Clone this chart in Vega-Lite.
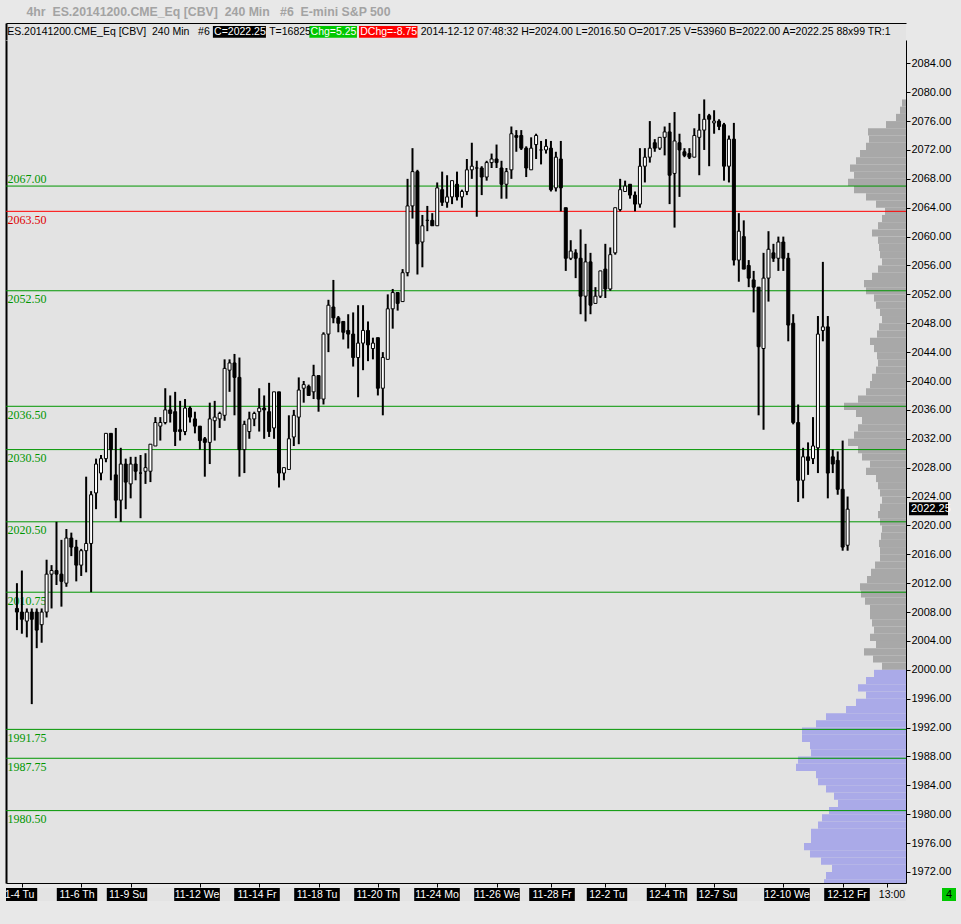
{
  "$schema": "https://vega.github.io/schema/vega-lite/v6.json",
  "padding": {"left": 5, "top": 5, "right": 6, "bottom": 30},
  "background": "#e8e8e8",
  "title": {
    "text": "4hr\u00a0\u00a0ES.20141200.CME_Eq [CBV]\u00a0\u00a0240 Min\u00a0\u00a0\u00a0#6\u00a0\u00a0E-mini S&P 500",
    "anchor": "start", "dx": 21, "offset": 5,
    "font": "Liberation Sans", "fontSize": 12.3, "fontWeight": "bold", "color": "#a3a3a3"
  },
  "config": {
    "view": {"stroke": null, "fill": "#e3e3e3"},
    "concat": {"spacing": 0},
    "axis": {"domainColor": "black", "tickColor": "black", "labelColor": "black", "grid": false, "title": null}
  },
  "datasets": {
    "header": [
      {"k": 1, "role": "symbol", "text": "ES.20141200.CME_Eq [CBV]\u00a0\u00a0240 Min\u00a0\u00a0\u00a0#6"},
      {"k": 2, "role": "close", "text": "C=2022.25"},
      {"k": 3, "role": "ticks", "text": "T=16825"},
      {"k": 4, "role": "change", "text": "Chg=5.25"},
      {"k": 5, "role": "daychange", "text": "DChg=-8.75"},
      {"k": 6, "role": "quote", "text": "2014-12-12 07:48:32 H=2024.00 L=2016.50 O=2017.25 V=53960 B=2022.00 A=2022.25 88x99 TR:1"}
    ],
    "sessions": [
      {"bar": 1, "label": "11-4 Tu"}, {"bar": 13, "label": "11-6 Th"}, {"bar": 23, "label": "11-9 Su"},
      {"bar": 37, "label": "11-12 We"}, {"bar": 49, "label": "11-14 Fr"}, {"bar": 61, "label": "11-18 Tu"},
      {"bar": 73, "label": "11-20 Th"}, {"bar": 85, "label": "11-24 Mo"}, {"bar": 97, "label": "11-26 We"},
      {"bar": 108, "label": "11-28 Fr"}, {"bar": 119, "label": "12-2 Tu"}, {"bar": 131, "label": "12-4 Th"},
      {"bar": 141, "label": "12-7 Su"}, {"bar": 155, "label": "12-10 We"}, {"bar": 167, "label": "12-12 Fr"}
    ],
    "clock": [{"bar": 176, "label": "13:00"}],
    "status": [{"windows": 4}],
    "levels": [
      {"price": 2067.00, "kind": "level"}, {"price": 2063.50, "kind": "reference"},
      {"price": 2052.50, "kind": "level"}, {"price": 2036.50, "kind": "level"},
      {"price": 2030.50, "kind": "level"}, {"price": 2020.50, "kind": "level"},
      {"price": 2010.75, "kind": "level"}, {"price": 1991.75, "kind": "level"},
      {"price": 1987.75, "kind": "level"}, {"price": 1980.50, "kind": "level"}
    ],
    "profile": [
      {"price": 2078, "volume": 4}, {"price": 2077, "volume": 6}, {"price": 2076, "volume": 10}, {"price": 2075, "volume": 20},
      {"price": 2074, "volume": 38}, {"price": 2073, "volume": 37}, {"price": 2072, "volume": 40}, {"price": 2071, "volume": 46},
      {"price": 2070, "volume": 50}, {"price": 2069, "volume": 56}, {"price": 2068, "volume": 52}, {"price": 2067, "volume": 58},
      {"price": 2066, "volume": 52}, {"price": 2065, "volume": 40}, {"price": 2064, "volume": 30}, {"price": 2063, "volume": 21},
      {"price": 2062, "volume": 24}, {"price": 2061, "volume": 28}, {"price": 2060, "volume": 34}, {"price": 2059, "volume": 28},
      {"price": 2058, "volume": 27}, {"price": 2057, "volume": 26}, {"price": 2056, "volume": 24}, {"price": 2055, "volume": 28},
      {"price": 2054, "volume": 34}, {"price": 2053, "volume": 42}, {"price": 2052, "volume": 40}, {"price": 2051, "volume": 32},
      {"price": 2050, "volume": 30}, {"price": 2049, "volume": 26}, {"price": 2048, "volume": 24}, {"price": 2047, "volume": 27},
      {"price": 2046, "volume": 29}, {"price": 2045, "volume": 36}, {"price": 2044, "volume": 32}, {"price": 2043, "volume": 29},
      {"price": 2042, "volume": 28}, {"price": 2041, "volume": 30}, {"price": 2040, "volume": 34}, {"price": 2039, "volume": 36},
      {"price": 2038, "volume": 40}, {"price": 2037, "volume": 48}, {"price": 2036, "volume": 62}, {"price": 2035, "volume": 50},
      {"price": 2034, "volume": 44}, {"price": 2033, "volume": 48}, {"price": 2032, "volume": 52}, {"price": 2031, "volume": 58},
      {"price": 2030, "volume": 48}, {"price": 2029, "volume": 44}, {"price": 2028, "volume": 36}, {"price": 2027, "volume": 40},
      {"price": 2026, "volume": 30}, {"price": 2025, "volume": 28}, {"price": 2024, "volume": 26}, {"price": 2023, "volume": 24},
      {"price": 2022, "volume": 26}, {"price": 2021, "volume": 28}, {"price": 2020, "volume": 26}, {"price": 2019, "volume": 24},
      {"price": 2018, "volume": 25}, {"price": 2017, "volume": 27}, {"price": 2016, "volume": 26}, {"price": 2015, "volume": 26},
      {"price": 2014, "volume": 31}, {"price": 2013, "volume": 35}, {"price": 2012, "volume": 39}, {"price": 2011, "volume": 46},
      {"price": 2010, "volume": 45}, {"price": 2009, "volume": 41}, {"price": 2008, "volume": 36}, {"price": 2007, "volume": 36},
      {"price": 2006, "volume": 34}, {"price": 2005, "volume": 32}, {"price": 2004, "volume": 36}, {"price": 2003, "volume": 30},
      {"price": 2002, "volume": 42}, {"price": 2001, "volume": 33}, {"price": 2000, "volume": 24}, {"price": 1999, "volume": 32},
      {"price": 1998, "volume": 40}, {"price": 1997, "volume": 48}, {"price": 1996, "volume": 40}, {"price": 1995, "volume": 50},
      {"price": 1994, "volume": 60}, {"price": 1993, "volume": 80}, {"price": 1992, "volume": 90}, {"price": 1991, "volume": 104},
      {"price": 1990, "volume": 104}, {"price": 1989, "volume": 96}, {"price": 1988, "volume": 95}, {"price": 1987, "volume": 108},
      {"price": 1986, "volume": 110}, {"price": 1985, "volume": 90}, {"price": 1984, "volume": 88}, {"price": 1983, "volume": 80},
      {"price": 1982, "volume": 72}, {"price": 1981, "volume": 68}, {"price": 1980, "volume": 77}, {"price": 1979, "volume": 84},
      {"price": 1978, "volume": 88}, {"price": 1977, "volume": 95}, {"price": 1976, "volume": 95}, {"price": 1975, "volume": 102},
      {"price": 1974, "volume": 96}, {"price": 1973, "volume": 85}, {"price": 1972, "volume": 74}, {"price": 1971, "volume": 80},
      {"price": 1970, "volume": 82}
    ],
    "candles": [
      {"bar":0,"open":2008.5,"high":2012.0,"low":2005.5,"close":2008.0},
      {"bar":1,"open":2008.0,"high":2013.75,"low":2005.0,"close":2007.0},
      {"bar":2,"open":2006.75,"high":2008.5,"low":2004.5,"close":2008.0},
      {"bar":3,"open":2008.0,"high":2008.5,"low":1995.25,"close":2007.0},
      {"bar":4,"open":2008.0,"high":2008.5,"low":2003.0,"close":2005.5},
      {"bar":5,"open":2006.25,"high":2008.5,"low":2003.75,"close":2008.0},
      {"bar":6,"open":2008.0,"high":2015.25,"low":2007.25,"close":2013.25},
      {"bar":7,"open":2013.25,"high":2014.5,"low":2008.5,"close":2013.75},
      {"bar":8,"open":2013.75,"high":2020.5,"low":2011.75,"close":2013.25},
      {"bar":9,"open":2013.25,"high":2018.0,"low":2008.75,"close":2012.25},
      {"bar":10,"open":2012.0,"high":2019.5,"low":2011.5,"close":2018.25},
      {"bar":11,"open":2018.25,"high":2019.0,"low":2015.75,"close":2017.0},
      {"bar":12,"open":2017.0,"high":2018.0,"low":2012.25,"close":2014.5},
      {"bar":13,"open":2014.5,"high":2016.75,"low":2013.0,"close":2016.5},
      {"bar":14,"open":2016.5,"high":2026.75,"low":2013.5,"close":2017.5},
      {"bar":15,"open":2017.5,"high":2024.75,"low":2010.75,"close":2024.25},
      {"bar":16,"open":2024.5,"high":2029.25,"low":2022.25,"close":2028.5},
      {"bar":17,"open":2027.25,"high":2029.75,"low":2026.25,"close":2029.25},
      {"bar":18,"open":2029.25,"high":2032.75,"low":2028.75,"close":2032.75},
      {"bar":19,"open":2032.75,"high":2032.75,"low":2026.25,"close":2030.5},
      {"bar":20,"open":2027.0,"high":2033.5,"low":2021.0,"close":2023.5},
      {"bar":21,"open":2023.5,"high":2030.75,"low":2020.5,"close":2028.5},
      {"bar":22,"open":2028.5,"high":2029.25,"low":2022.25,"close":2026.0},
      {"bar":23,"open":2025.75,"high":2029.5,"low":2023.75,"close":2028.5},
      {"bar":24,"open":2028.5,"high":2029.5,"low":2026.25,"close":2027.5},
      {"bar":25,"open":2027.25,"high":2029.75,"low":2021.0,"close":2027.25},
      {"bar":26,"open":2027.5,"high":2030.0,"low":2025.75,"close":2028.0},
      {"bar":27,"open":2027.5,"high":2031.25,"low":2026.0,"close":2031.25},
      {"bar":28,"open":2031.0,"high":2035.0,"low":2031.0,"close":2034.25},
      {"bar":29,"open":2033.75,"high":2035.0,"low":2031.75,"close":2034.25},
      {"bar":30,"open":2034.25,"high":2039.0,"low":2034.0,"close":2036.0},
      {"bar":31,"open":2036.0,"high":2038.0,"low":2034.25,"close":2035.5},
      {"bar":32,"open":2035.75,"high":2038.5,"low":2031.0,"close":2033.0},
      {"bar":33,"open":2033.25,"high":2037.25,"low":2031.75,"close":2033.0},
      {"bar":34,"open":2033.0,"high":2037.5,"low":2032.5,"close":2036.25},
      {"bar":35,"open":2036.25,"high":2036.5,"low":2034.25,"close":2035.0},
      {"bar":36,"open":2034.75,"high":2035.75,"low":2032.75,"close":2033.75},
      {"bar":37,"open":2033.75,"high":2033.75,"low":2030.5,"close":2031.75},
      {"bar":38,"open":2032.0,"high":2032.25,"low":2026.75,"close":2031.5},
      {"bar":39,"open":2031.5,"high":2037.0,"low":2028.5,"close":2034.75},
      {"bar":40,"open":2034.5,"high":2037.25,"low":2031.75,"close":2035.0},
      {"bar":41,"open":2034.75,"high":2035.75,"low":2033.5,"close":2035.5},
      {"bar":42,"open":2035.25,"high":2043.0,"low":2034.5,"close":2041.75},
      {"bar":43,"open":2041.5,"high":2043.0,"low":2038.5,"close":2042.5},
      {"bar":44,"open":2042.5,"high":2043.75,"low":2035.25,"close":2040.5},
      {"bar":45,"open":2040.5,"high":2043.25,"low":2026.75,"close":2030.5},
      {"bar":46,"open":2030.5,"high":2034.5,"low":2027.25,"close":2034.0},
      {"bar":47,"open":2033.0,"high":2035.75,"low":2032.0,"close":2034.75},
      {"bar":48,"open":2034.75,"high":2035.75,"low":2033.75,"close":2035.5},
      {"bar":49,"open":2035.75,"high":2039.0,"low":2033.0,"close":2036.25},
      {"bar":50,"open":2036.25,"high":2038.0,"low":2032.0,"close":2036.0},
      {"bar":51,"open":2035.75,"high":2039.75,"low":2032.25,"close":2033.0},
      {"bar":52,"open":2033.5,"high":2038.5,"low":2032.0,"close":2038.5},
      {"bar":53,"open":2038.5,"high":2038.5,"low":2025.25,"close":2027.25},
      {"bar":54,"open":2027.25,"high":2028.0,"low":2026.25,"close":2028.0},
      {"bar":55,"open":2027.75,"high":2035.25,"low":2027.75,"close":2032.0},
      {"bar":56,"open":2032.25,"high":2036.0,"low":2031.0,"close":2035.25},
      {"bar":57,"open":2035.0,"high":2040.5,"low":2031.25,"close":2038.75},
      {"bar":58,"open":2039.0,"high":2040.0,"low":2037.0,"close":2039.5},
      {"bar":59,"open":2039.25,"high":2039.5,"low":2038.0,"close":2038.0},
      {"bar":60,"open":2038.5,"high":2042.25,"low":2037.5,"close":2040.75},
      {"bar":61,"open":2040.75,"high":2040.75,"low":2035.75,"close":2037.5},
      {"bar":62,"open":2037.5,"high":2046.75,"low":2036.75,"close":2046.5},
      {"bar":63,"open":2046.5,"high":2051.25,"low":2044.0,"close":2050.5},
      {"bar":64,"open":2050.25,"high":2054.0,"low":2048.0,"close":2048.75},
      {"bar":65,"open":2048.75,"high":2049.0,"low":2046.75,"close":2048.0},
      {"bar":66,"open":2048.25,"high":2048.25,"low":2045.75,"close":2046.75},
      {"bar":67,"open":2047.0,"high":2049.25,"low":2044.5,"close":2046.5},
      {"bar":68,"open":2046.5,"high":2049.5,"low":2042.0,"close":2043.25},
      {"bar":69,"open":2043.25,"high":2050.5,"low":2037.75,"close":2045.25},
      {"bar":70,"open":2045.25,"high":2050.5,"low":2041.5,"close":2047.0},
      {"bar":71,"open":2047.0,"high":2048.25,"low":2042.75,"close":2045.0},
      {"bar":72,"open":2044.5,"high":2046.0,"low":2043.0,"close":2045.25},
      {"bar":73,"open":2046.0,"high":2046.0,"low":2038.0,"close":2039.0},
      {"bar":74,"open":2039.0,"high":2044.0,"low":2035.25,"close":2043.25},
      {"bar":75,"open":2043.0,"high":2052.0,"low":2043.0,"close":2050.0},
      {"bar":76,"open":2050.0,"high":2052.75,"low":2047.25,"close":2052.25},
      {"bar":77,"open":2052.25,"high":2052.25,"low":2049.75,"close":2050.75},
      {"bar":78,"open":2051.0,"high":2055.5,"low":2051.0,"close":2055.0},
      {"bar":79,"open":2055.0,"high":2068.0,"low":2054.5,"close":2064.25},
      {"bar":80,"open":2064.25,"high":2072.25,"low":2062.5,"close":2069.0},
      {"bar":81,"open":2069.0,"high":2069.25,"low":2054.75,"close":2059.0},
      {"bar":82,"open":2059.25,"high":2063.0,"low":2055.75,"close":2061.5},
      {"bar":83,"open":2062.25,"high":2064.25,"low":2060.75,"close":2062.25},
      {"bar":84,"open":2062.25,"high":2063.25,"low":2061.5,"close":2061.5},
      {"bar":85,"open":2061.5,"high":2067.5,"low":2061.5,"close":2066.75},
      {"bar":86,"open":2066.5,"high":2069.0,"low":2064.25,"close":2064.75},
      {"bar":87,"open":2064.75,"high":2068.5,"low":2064.0,"close":2065.5},
      {"bar":88,"open":2065.5,"high":2067.75,"low":2064.5,"close":2067.75},
      {"bar":89,"open":2067.25,"high":2069.0,"low":2065.0,"close":2065.5},
      {"bar":90,"open":2065.5,"high":2066.5,"low":2064.0,"close":2066.25},
      {"bar":91,"open":2066.25,"high":2070.75,"low":2065.75,"close":2069.25},
      {"bar":92,"open":2069.25,"high":2073.0,"low":2068.0,"close":2069.75},
      {"bar":93,"open":2069.5,"high":2070.5,"low":2062.75,"close":2069.5},
      {"bar":94,"open":2069.5,"high":2069.75,"low":2065.75,"close":2068.25},
      {"bar":95,"open":2068.25,"high":2070.5,"low":2067.75,"close":2070.25},
      {"bar":96,"open":2070.25,"high":2071.5,"low":2069.5,"close":2070.75},
      {"bar":97,"open":2070.75,"high":2072.75,"low":2069.5,"close":2070.25},
      {"bar":98,"open":2069.5,"high":2070.5,"low":2065.25,"close":2067.25},
      {"bar":99,"open":2067.25,"high":2069.5,"low":2065.25,"close":2069.0},
      {"bar":100,"open":2069.25,"high":2075.25,"low":2068.0,"close":2074.25},
      {"bar":101,"open":2074.0,"high":2074.75,"low":2071.75,"close":2073.75},
      {"bar":102,"open":2074.0,"high":2074.75,"low":2072.0,"close":2072.25},
      {"bar":103,"open":2072.25,"high":2072.5,"low":2068.25,"close":2069.5},
      {"bar":104,"open":2069.25,"high":2073.75,"low":2069.25,"close":2072.25},
      {"bar":105,"open":2072.75,"high":2074.25,"low":2070.75,"close":2074.0},
      {"bar":106,"open":2072.0,"high":2073.25,"low":2070.0,"close":2072.0},
      {"bar":107,"open":2072.0,"high":2073.5,"low":2071.5,"close":2072.5},
      {"bar":108,"open":2072.25,"high":2073.25,"low":2066.25,"close":2066.5},
      {"bar":109,"open":2066.75,"high":2071.75,"low":2066.25,"close":2071.0},
      {"bar":110,"open":2070.75,"high":2073.25,"low":2063.5,"close":2066.75},
      {"bar":111,"open":2064.0,"high":2064.0,"low":2055.25,"close":2057.0},
      {"bar":112,"open":2057.0,"high":2059.5,"low":2056.75,"close":2058.0},
      {"bar":113,"open":2057.75,"high":2058.25,"low":2054.25,"close":2057.0},
      {"bar":114,"open":2057.0,"high":2061.0,"low":2049.25,"close":2051.75},
      {"bar":115,"open":2051.75,"high":2059.0,"low":2048.25,"close":2056.5},
      {"bar":116,"open":2056.5,"high":2057.75,"low":2049.25,"close":2050.5},
      {"bar":117,"open":2050.75,"high":2053.0,"low":2050.75,"close":2051.75},
      {"bar":118,"open":2051.75,"high":2055.25,"low":2051.5,"close":2055.25},
      {"bar":119,"open":2055.5,"high":2059.0,"low":2051.5,"close":2052.75},
      {"bar":120,"open":2052.75,"high":2058.5,"low":2052.5,"close":2057.5},
      {"bar":121,"open":2057.75,"high":2064.0,"low":2057.5,"close":2064.0},
      {"bar":122,"open":2063.75,"high":2068.0,"low":2063.5,"close":2066.5},
      {"bar":123,"open":2066.25,"high":2067.75,"low":2066.25,"close":2067.0},
      {"bar":124,"open":2067.25,"high":2067.25,"low":2065.25,"close":2065.75},
      {"bar":125,"open":2065.75,"high":2066.25,"low":2063.5,"close":2064.5},
      {"bar":126,"open":2064.5,"high":2072.25,"low":2064.0,"close":2069.75},
      {"bar":127,"open":2069.75,"high":2072.25,"low":2067.5,"close":2071.0},
      {"bar":128,"open":2071.0,"high":2076.0,"low":2070.25,"close":2072.25},
      {"bar":129,"open":2073.0,"high":2073.5,"low":2071.75,"close":2072.25},
      {"bar":130,"open":2072.25,"high":2073.75,"low":2072.0,"close":2073.75},
      {"bar":131,"open":2073.75,"high":2075.25,"low":2071.25,"close":2074.5},
      {"bar":132,"open":2074.5,"high":2075.75,"low":2064.5,"close":2068.5},
      {"bar":133,"open":2068.75,"high":2077.25,"low":2061.25,"close":2073.25},
      {"bar":134,"open":2073.0,"high":2074.25,"low":2065.5,"close":2072.0},
      {"bar":135,"open":2071.75,"high":2072.25,"low":2071.0,"close":2071.25},
      {"bar":136,"open":2071.5,"high":2072.25,"low":2070.75,"close":2071.0},
      {"bar":137,"open":2071.0,"high":2075.0,"low":2071.0,"close":2074.0},
      {"bar":138,"open":2073.75,"high":2077.0,"low":2068.5,"close":2074.75},
      {"bar":139,"open":2074.75,"high":2079.0,"low":2072.0,"close":2076.25},
      {"bar":140,"open":2076.75,"high":2077.0,"low":2069.75,"close":2076.25},
      {"bar":141,"open":2075.75,"high":2077.5,"low":2074.25,"close":2076.0},
      {"bar":142,"open":2076.0,"high":2076.25,"low":2074.75,"close":2075.25},
      {"bar":143,"open":2075.5,"high":2075.75,"low":2067.75,"close":2069.75},
      {"bar":144,"open":2069.75,"high":2074.0,"low":2067.5,"close":2073.5},
      {"bar":145,"open":2073.5,"high":2075.75,"low":2056.0,"close":2056.75},
      {"bar":146,"open":2056.75,"high":2063.25,"low":2053.75,"close":2060.75},
      {"bar":147,"open":2060.0,"high":2062.25,"low":2055.5,"close":2055.5},
      {"bar":148,"open":2056.0,"high":2056.75,"low":2053.0,"close":2054.25},
      {"bar":149,"open":2054.0,"high":2055.25,"low":2049.5,"close":2053.0},
      {"bar":150,"open":2053.0,"high":2053.0,"low":2035.25,"close":2044.75},
      {"bar":151,"open":2044.5,"high":2057.75,"low":2033.25,"close":2054.25},
      {"bar":152,"open":2054.25,"high":2060.75,"low":2051.0,"close":2058.25},
      {"bar":153,"open":2057.75,"high":2059.0,"low":2056.5,"close":2057.0},
      {"bar":154,"open":2057.0,"high":2060.0,"low":2055.25,"close":2059.25},
      {"bar":155,"open":2059.25,"high":2060.0,"low":2055.25,"close":2057.0},
      {"bar":156,"open":2057.0,"high":2057.75,"low":2045.5,"close":2047.75},
      {"bar":157,"open":2048.0,"high":2049.25,"low":2034.0,"close":2034.25},
      {"bar":158,"open":2034.25,"high":2036.75,"low":2023.25,"close":2026.25},
      {"bar":159,"open":2026.25,"high":2030.75,"low":2023.75,"close":2029.5},
      {"bar":160,"open":2029.5,"high":2031.5,"low":2027.0,"close":2029.0},
      {"bar":161,"open":2029.25,"high":2035.0,"low":2028.5,"close":2031.0},
      {"bar":162,"open":2030.75,"high":2049.0,"low":2027.25,"close":2046.5},
      {"bar":163,"open":2047.0,"high":2056.5,"low":2045.5,"close":2047.5},
      {"bar":164,"open":2047.5,"high":2049.0,"low":2023.75,"close":2027.25},
      {"bar":165,"open":2029.5,"high":2030.5,"low":2027.25,"close":2028.5},
      {"bar":166,"open":2029.0,"high":2030.25,"low":2024.25,"close":2025.0},
      {"bar":167,"open":2025.0,"high":2031.75,"low":2016.5,"close":2017.0},
      {"bar":168,"open":2017.25,"high":2024.0,"low":2016.5,"close":2022.25}
    ]
  },
  "vconcat": [
    {
      "width": 900,
      "height": 17,
      "data": {"name": "header"},
      "transform": [
        {"calculate": "datum.role === 'close' || datum.role === 'change' || datum.role === 'daychange'", "as": "boxed"},
        {"calculate": "datum.boxed ? length(datum.text) * 1.05 + 1.2 : length(datum.text) + (datum.k === 1 ? 2 : 1)", "as": "w"},
        {"window": [{"op": "sum", "field": "w", "as": "end"}], "sort": [{"field": "k", "order": "ascending"}]},
        {"calculate": "datum.end - datum.w", "as": "start"},
        {"calculate": "datum.end - 0.4", "as": "boxEnd"}
      ],
      "layer": [
        {
          "transform": [{"filter": "datum.boxed"}],
          "mark": {"type": "rect"},
          "encoding": {
            "x": {
              "field": "start", "type": "quantitative",
              "scale": {"domain": [0, 174], "nice": false, "zero": false},
              "axis": {"orient": "top", "labels": false, "ticks": false, "domain": true, "domainWidth": 1, "minExtent": 0, "maxExtent": 0}
            },
            "x2": {"field": "boxEnd"},
            "y": {
              "datum": 0, "type": "quantitative",
              "scale": {"domain": [-0.2, 1.26], "nice": false, "zero": false},
              "axis": {"orient": "left", "labels": false, "ticks": false, "domain": true, "domainWidth": 2, "minExtent": 0, "maxExtent": 0}
            },
            "y2": {"datum": 1},
            "fill": {
              "field": "role", "type": "nominal",
              "scale": {"domain": ["close", "change", "daychange"], "range": ["#000000", "#00c800", "#ff0000"]},
              "legend": null
            }
          }
        },
        {
          "mark": {"type": "text", "align": "left", "baseline": "middle", "dx": 1.2, "font": "Liberation Sans", "fontSize": 10.5},
          "encoding": {
            "x": {"field": "start", "type": "quantitative"},
            "text": {"field": "text"},
            "color": {"condition": {"test": "datum.boxed", "value": "#ffffff"}, "value": "#000000"}
          }
        }
      ]
    },
    {
      "width": 900,
      "height": 843,
      "resolve": {"scale": {"x": "independent"}, "axis": {"y": "independent"}},
      "layer": [
        {
          "data": {"name": "profile"},
          "transform": [{"calculate": "datum.price + 1", "as": "priceTop"}],
          "mark": {"type": "rect", "clip": true},
          "encoding": {
            "x": {"field": "volume", "type": "quantitative", "scale": {"domain": [0, 900], "reverse": true, "nice": false}, "axis": null},
            "x2": {"datum": 0},
            "y": {"field": "price", "type": "quantitative", "scale": {"domain": [1970.475, 2087.23], "nice": false, "zero": false}, "axis": null},
            "y2": {"field": "priceTop"},
            "color": {"condition": {"test": "datum.price < 2000", "value": "#aaaae8"}, "value": "#a8a8a8"}
          }
        },
        {
          "resolve": {"axis": {"y": "independent"}},
          "layer": [
            {
              "data": {"name": "levels"},
              "mark": {"type": "rule", "strokeWidth": 1},
              "encoding": {
                "y": {
                  "field": "price", "type": "quantitative",
                  "axis": {
                    "orient": "left",
                    "values": [2067.0, 2063.5, 2052.5, 2036.5, 2030.5, 2020.5, 2010.75, 1991.75, 1987.75, 1980.5],
                    "format": ".2f", "ticks": false, "tickSize": 0, "domain": true, "domainWidth": 2,
                    "labelAlign": "left", "labelPadding": -1,
                    "labelBaseline": {"condition": {"test": "datum.value === 2067", "value": "bottom"}, "value": "top"},
                    "labelOffset": {"condition": {"test": "datum.value === 2067", "value": -1}, "value": 3},
                    "labelFont": "Liberation Serif", "labelFontSize": 12, "labelOverlap": false, "labelFlush": false,
                    "labelColor": {"condition": {"test": "datum.value === 2063.5", "value": "#e00000"}, "value": "#009600"},
                    "minExtent": 0, "maxExtent": 0
                  }
                },
                "color": {
                  "field": "kind", "type": "nominal",
                  "scale": {"domain": ["level", "reference"], "range": ["#009600", "#ff0000"]},
                  "legend": null
                }
              }
            },
            {
              "data": {"name": "candles"},
              "mark": {"type": "rule", "strokeWidth": 2, "color": "#000000"},
              "encoding": {
                "x": {
                  "field": "bar", "type": "quantitative",
                  "scale": {"domain": [-1.2, 178.8], "nice": false, "zero": false},
                  "axis": {
                    "values": [1, 13, 23, 37, 49, 61, 73, 85, 97, 108, 119, 131, 141, 155, 167, 176],
                    "labels": false, "tickSize": 4, "domainWidth": 1, "minExtent": 4, "maxExtent": 4
                  }
                },
                "y": {"field": "low", "type": "quantitative", "axis": null},
                "y2": {"field": "high"}
              }
            },
            {
              "data": {"name": "candles"},
              "mark": {"type": "bar", "orient": "vertical", "size": 3, "stroke": "#000000", "strokeWidth": 1},
              "encoding": {
                "x": {"field": "bar", "type": "quantitative"},
                "y": {
                  "field": "open", "type": "quantitative",
                  "axis": {
                    "orient": "right",
                    "values": [1972, 1976, 1980, 1984, 1988, 1992, 1996, 2000, 2004, 2008, 2012, 2016, 2020, 2024, 2028, 2032, 2036, 2040, 2044, 2048, 2052, 2056, 2060, 2064, 2068, 2072, 2076, 2080, 2084],
                    "format": ".2f", "tickSize": 4, "domainWidth": 1, "labelPadding": 1,
                    "labelFont": "Liberation Sans", "labelFontSize": 11, "labelFlush": false,
                    "minExtent": 50, "maxExtent": 50
                  }
                },
                "y2": {"field": "close"},
                "fill": {"condition": {"test": "datum.close < datum.open", "value": "#000000"}, "value": "#ffffff"}
              }
            },
            {
              "data": {"name": "candles"},
              "transform": [{"filter": "datum.bar === 168"}],
              "mark": {"type": "rect", "fill": "#000000", "x2Offset": 42, "xOffset": 3, "yOffset": -7, "y2Offset": 6},
              "encoding": {
                "x": {"value": "width"},
                "x2": {"value": "width"},
                "y": {"field": "close", "type": "quantitative", "axis": null},
                "y2": {"field": "close"}
              }
            },
            {
              "data": {"name": "candles"},
              "transform": [{"filter": "datum.bar === 168"}],
              "mark": {"type": "text", "align": "left", "baseline": "middle", "dx": 5, "font": "Liberation Sans", "fontSize": 11, "fill": "#ffffff"},
              "encoding": {
                "x": {"value": "width"},
                "y": {"field": "close", "type": "quantitative", "axis": null},
                "text": {"field": "close", "type": "quantitative", "format": ".2f"}
              }
            }
          ]
        }
      ]
    },
    {
      "width": 900,
      "height": 13,
      "layer": [
        {
          "data": {"name": "sessions"},
          "transform": [
            {"calculate": "length(datum.label) * 0.52 + 0.4", "as": "half"},
            {"calculate": "datum.bar - datum.half", "as": "lo"},
            {"calculate": "datum.bar + datum.half", "as": "hi"}
          ],
          "mark": {"type": "rect", "fill": "#000000", "clip": true},
          "encoding": {
            "x": {"field": "lo", "type": "quantitative", "scale": {"domain": [-1.2, 178.8], "nice": false, "zero": false}, "axis": null},
            "x2": {"field": "hi"}
          }
        },
        {
          "data": {"name": "sessions"},
          "mark": {"type": "text", "fill": "#ffffff", "font": "Liberation Sans", "fontSize": 10.5, "clip": true},
          "encoding": {
            "x": {"field": "bar", "type": "quantitative"},
            "text": {"field": "label"}
          }
        },
        {
          "data": {"name": "clock"},
          "mark": {"type": "text", "fill": "#000000", "font": "Liberation Sans", "fontSize": 10.5},
          "encoding": {
            "x": {"field": "bar", "type": "quantitative"},
            "text": {"field": "label"}
          }
        },
        {
          "data": {"name": "status"},
          "mark": {"type": "rect", "fill": "#00c800", "xOffset": 36, "x2Offset": 50},
          "encoding": {
            "x": {"value": "width"},
            "x2": {"value": "width"}
          }
        },
        {
          "data": {"name": "status"},
          "mark": {"type": "text", "fill": "#000000", "font": "Liberation Sans", "fontSize": 11, "dx": 43},
          "encoding": {
            "x": {"value": "width"},
            "text": {"field": "windows", "type": "quantitative"}
          }
        }
      ]
    }
  ]
}
